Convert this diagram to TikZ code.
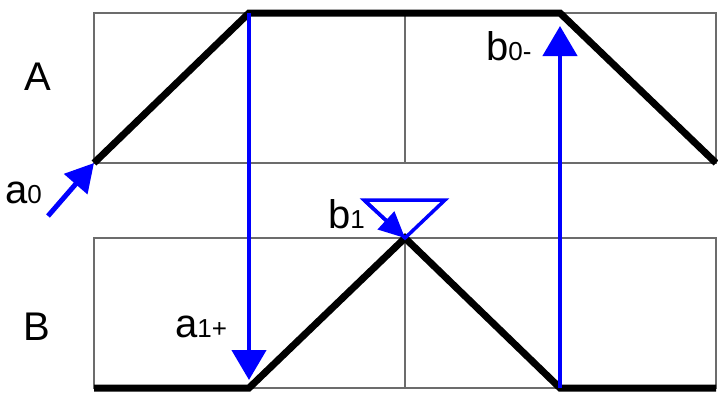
\documentclass[tikz,border=0pt]{standalone}
\usepackage{fontspec}
\setmainfont{Liberation Sans}
\usetikzlibrary{arrows.meta}
\newcommand{\biglab}{\fontsize{40}{40}\selectfont}
\newcommand{\smalllab}{\fontsize{26}{26}\selectfont}
\tikzset{
  gridline/.style={draw=gray!85!black, line width=1.5pt},
  wave/.style={draw=black, line width=7pt, line join=miter, line cap=butt},
  sig/.style={draw=blue, line width=4.5pt, -{Triangle[length=30pt,width=34pt]}},
  lab/.style={inner sep=0pt, anchor=base west},
  big/.style={inner sep=0pt, font=\biglab},
}
\begin{document}
\begin{tikzpicture}[x=1pt,y=-1pt]
\useasboundingbox (0,0) rectangle (718,394);
% grids
\draw[gridline] (94,13) rectangle (716,163);
\draw[gridline] (405,13) -- (405,163);
\draw[gridline] (94,238) rectangle (716,388);
\draw[gridline] (405,238) -- (405,388);
% coordinates
\coordinate (A0) at (94,163);
\coordinate (A1) at (249,13);
\coordinate (A2) at (560,13);
\coordinate (A3) at (716,163);
\coordinate (B0) at (94,388);
\coordinate (B1) at (249,388);
\coordinate (B2) at (405,238);
\coordinate (B3) at (560,388);
\coordinate (B4) at (716,388);
\coordinate (a0s) at (48,216);
\coordinate (t1) at (364,200);
\coordinate (t2) at (445,200);
% waves
\draw[wave] (A0) -- (A1) -- (A2) -- (A3);
\draw[wave] (B0) -- (B1) -- (B2) -- (B3) -- (B4);
% triangle
\draw[blue, line width=3.5pt, line join=miter] (t1) -- (t2) -- (B2) -- cycle;
% arrows
\draw[sig] (A1) -- ([yshift=8pt]B1);
\draw[sig] (B3) -- ([yshift=-13pt]A2);
\draw[sig, line width=5pt, -{Triangle[length=28pt,width=30pt]}] (a0s) -- (A0);
\draw[sig, line width=3.5pt, -{Triangle[length=26pt,width=24pt]}] (t1) -- (B2);
% labels
\node[big] (labA) at (38,77) {A};
\node[big] (labB) at (37,327) {B};
\node[lab] (la0) at (5,203) {\biglab a\smalllab 0};
\node[lab] (lb1) at (328,228) {\biglab b\smalllab 1};
\node[lab] (la1) at (175,337) {\biglab a\smalllab 1+};
\node[lab] (lb0) at (486,60) {\biglab b\smalllab 0-};
\end{tikzpicture}
\end{document}
